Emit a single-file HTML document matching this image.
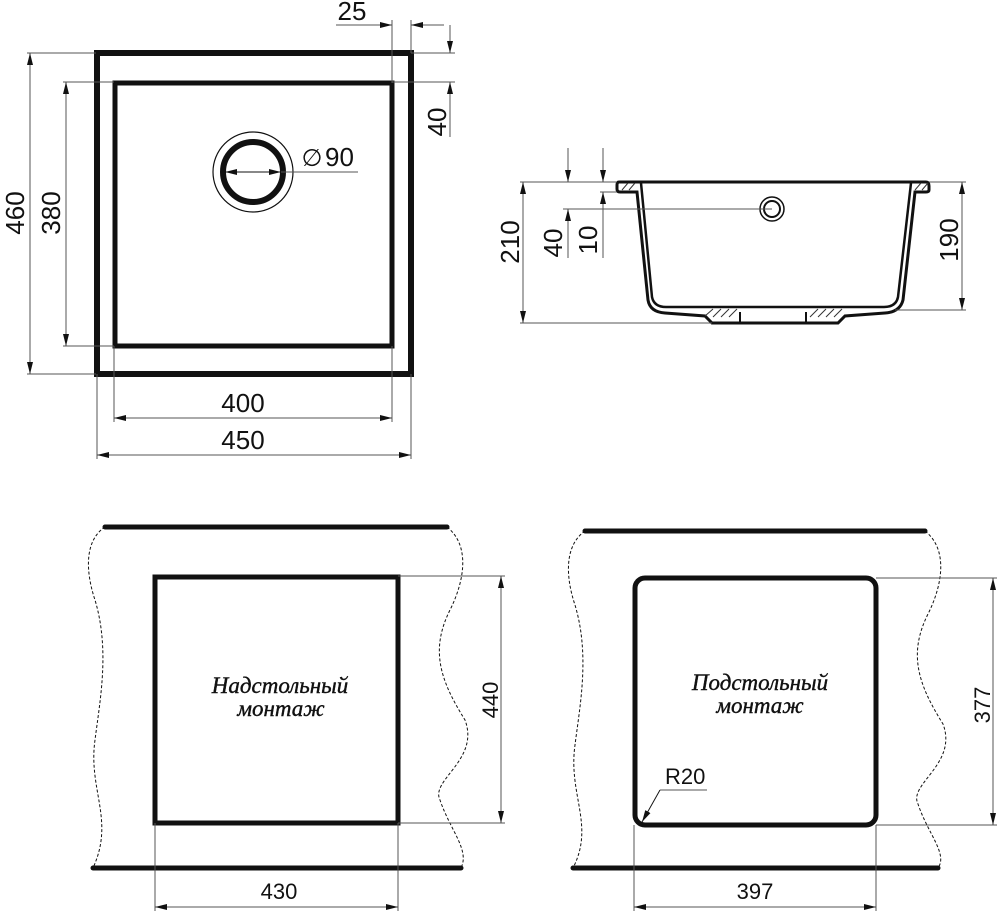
<!DOCTYPE html>
<html><head><meta charset="utf-8"><style>
html,body{margin:0;padding:0;background:#fff;}
svg{display:block}
text{font-family:"Liberation Sans",sans-serif;fill:#111}
.it{font-family:"Liberation Serif","DejaVu Serif",serif;font-style:italic;font-size:23px;stroke:#111;stroke-width:0.4}
</style></head><body>
<svg width="1000" height="912" viewBox="0 0 1000 912" xmlns="http://www.w3.org/2000/svg">
<defs>
<marker id="a" viewBox="0 0 12 6" refX="12" refY="3" markerWidth="12" markerHeight="6" orient="auto-start-reverse" markerUnits="userSpaceOnUse"><path d="M0,0 L12,3 L0,6 Z" fill="#111"/></marker>
</defs>
<g stroke="#111" fill="none">
<rect x="97" y="53" width="314" height="321" stroke-width="6"/>
<rect x="115" y="83" width="277" height="263" stroke-width="5"/>
<circle cx="253" cy="172" r="40" stroke-width="1.2"/>
<circle cx="253" cy="172" r="30" stroke-width="6"/>
<g stroke-width="1" stroke="#555">
<line x1="225" y1="172" x2="281" y2="172" marker-start="url(#a)" marker-end="url(#a)" stroke="#111"/>
<line x1="281" y1="172" x2="358" y2="172"/>
<line x1="27" y1="53" x2="96" y2="53"/><line x1="27" y1="374" x2="96" y2="374"/>
<line x1="30" y1="53" x2="30" y2="374" marker-start="url(#a)" marker-end="url(#a)"/>
<line x1="63" y1="82" x2="114" y2="82"/><line x1="63" y1="346" x2="114" y2="346"/>
<line x1="66" y1="82" x2="66" y2="346" marker-start="url(#a)" marker-end="url(#a)"/>
<line x1="114" y1="346" x2="114" y2="422"/><line x1="392" y1="346" x2="392" y2="422"/>
<line x1="114" y1="418" x2="392" y2="418" marker-start="url(#a)" marker-end="url(#a)"/>
<line x1="97" y1="374" x2="97" y2="459"/><line x1="411" y1="374" x2="411" y2="459"/>
<line x1="97" y1="455" x2="411" y2="455" marker-start="url(#a)" marker-end="url(#a)"/>
<line x1="392" y1="20" x2="392" y2="83"/><line x1="411" y1="20" x2="411" y2="53"/>
<line x1="336" y1="25" x2="392" y2="25" marker-end="url(#a)"/>
<line x1="444" y1="25" x2="411" y2="25" marker-end="url(#a)"/>
<line x1="411" y1="53" x2="455" y2="53"/><line x1="392" y1="82" x2="455" y2="82"/>
<line x1="450" y1="25" x2="450" y2="53" marker-end="url(#a)"/>
<line x1="450" y1="137" x2="450" y2="82" marker-end="url(#a)"/>
</g>
<path d="M619,182 L926,182 Q929,182 929,186 L929,190 Q929,192 926,192 L915,192 L903,300 Q900,312 885,313 L845,316 L838,323 L712,323 L705,316 L665,313 Q650,312 648,300 L637,192 L620,192 Q617,192 617,189 L617,185 Q617,182 619,182 Z" stroke-width="3"/>
<path d="M641,183 L652,297 Q654,307 666,307 L884,307 Q896,307 898,297 L911,183" stroke-width="2.5"/>
<line x1="740" y1="312" x2="740" y2="323" stroke-width="2"/><line x1="806" y1="312" x2="806" y2="323" stroke-width="2"/>
<g stroke-width="1" stroke="#333">
<path d="M705,316 l8,-7 M713,317 l8,-8 M721,317 l8,-8 M729,317 l8,-8 M810,317 l8,-8 M818,317 l8,-8 M826,317 l8,-8 M834,317 l8,-8"/>
<path d="M622,190 l6,-7 M629,190 l6,-7 M915,190 l6,-7 M922,190 l6,-7"/>
</g>
<circle cx="772" cy="209" r="12" stroke-width="1.5"/>
<circle cx="772" cy="209" r="8" stroke-width="2"/>
<g stroke-width="1" stroke="#555">
<line x1="520" y1="182" x2="617" y2="182"/><line x1="520" y1="323" x2="712" y2="323"/>
<line x1="523" y1="182" x2="523" y2="323" marker-start="url(#a)" marker-end="url(#a)"/>
<line x1="563" y1="209" x2="772" y2="209"/><line x1="600" y1="192" x2="617" y2="192"/>
<line x1="568" y1="148" x2="568" y2="182" marker-end="url(#a)"/>
<line x1="568" y1="258" x2="568" y2="209" marker-end="url(#a)"/>
<line x1="603" y1="148" x2="603" y2="182" marker-end="url(#a)"/>
<line x1="603" y1="258" x2="603" y2="192" marker-end="url(#a)"/>
<line x1="929" y1="182" x2="966" y2="182"/><line x1="895" y1="310" x2="966" y2="310"/>
<line x1="962" y1="182" x2="962" y2="310" marker-start="url(#a)" marker-end="url(#a)"/>
</g>
<line x1="105" y1="527" x2="447" y2="527" stroke-width="5" stroke-linecap="round"/>
<line x1="93" y1="868" x2="461" y2="868" stroke-width="5" stroke-linecap="round"/>
<rect x="155" y="577" width="243" height="246" stroke-width="5"/>
<path d="M105,527 C85,540 85,570 95,600 C110,650 100,700 95,740 C88,790 115,820 93,868" stroke-width="1" stroke-dasharray="3,2"/>
<path d="M447,527 C470,545 465,580 450,610 C430,650 440,680 465,720 C480,760 430,780 440,800 C450,830 470,850 461,868" stroke-width="1" stroke-dasharray="3,2"/>
<g stroke-width="1" stroke="#555">
<line x1="398" y1="576" x2="505" y2="576"/><line x1="398" y1="823" x2="505" y2="823"/>
<line x1="501" y1="576" x2="501" y2="823" marker-start="url(#a)" marker-end="url(#a)"/>
<line x1="155" y1="823" x2="155" y2="911"/><line x1="398" y1="823" x2="398" y2="911"/>
<line x1="155" y1="907" x2="398" y2="907" marker-start="url(#a)" marker-end="url(#a)"/>
</g>
<line x1="585" y1="531" x2="925" y2="531" stroke-width="5" stroke-linecap="round"/>
<line x1="573" y1="868" x2="938" y2="868" stroke-width="5" stroke-linecap="round"/>
<rect x="635" y="578" width="241" height="247" rx="10" stroke-width="5"/>
<path d="M585,531 C565,545 565,575 575,605 C590,655 580,705 575,745 C568,795 595,825 573,868" stroke-width="1" stroke-dasharray="3,2"/>
<path d="M925,531 C948,549 943,584 928,614 C908,654 918,684 943,724 C958,764 908,784 918,804 C928,834 948,854 938,868" stroke-width="1" stroke-dasharray="3,2"/>
<g stroke-width="1" stroke="#555">
<line x1="876" y1="578" x2="997" y2="578"/><line x1="876" y1="825" x2="997" y2="825"/>
<line x1="993" y1="578" x2="993" y2="825" marker-start="url(#a)" marker-end="url(#a)"/>
<line x1="634" y1="825" x2="634" y2="911"/><line x1="876" y1="825" x2="876" y2="911"/>
<line x1="634" y1="907" x2="876" y2="907" marker-start="url(#a)" marker-end="url(#a)"/>
<line x1="660" y1="790" x2="707" y2="790"/>
<line x1="660" y1="790" x2="642" y2="822" marker-end="url(#a)" stroke="#111"/>
</g>
</g>
<g font-size="26">
<text x="352" y="20" text-anchor="middle">25</text>
<text x="243" y="412" text-anchor="middle">400</text>
<text x="243" y="449" text-anchor="middle">450</text>
<text x="325" y="166">90</text>
<text transform="translate(24,213) rotate(-90)" text-anchor="middle">460</text>
<text transform="translate(60,213) rotate(-90)" text-anchor="middle">380</text>
<text transform="translate(446,122) rotate(-90)" text-anchor="middle">40</text>
<text transform="translate(519,242) rotate(-90)" text-anchor="middle">210</text>
<text transform="translate(562,243) rotate(-90)" text-anchor="middle">40</text>
<text transform="translate(597,240) rotate(-90)" text-anchor="middle">10</text>
<text transform="translate(958,240) rotate(-90)" text-anchor="middle">190</text>
</g>
<text x="312" y="166" font-size="24" text-anchor="middle" style="font-family:'DejaVu Sans',sans-serif">∅</text>
<g font-size="22">
<text x="279" y="899" text-anchor="middle">430</text>
<text x="755" y="899" text-anchor="middle">397</text>
<text x="665" y="784">R20</text>
<text transform="translate(498,700) rotate(-90)" text-anchor="middle">440</text>
<text transform="translate(990,705) rotate(-90)" text-anchor="middle">377</text>
</g>
<text class="it" x="280" y="693" text-anchor="middle">Надстольный</text>
<text class="it" x="281" y="716" text-anchor="middle">монтаж</text>
<text class="it" x="760" y="690" text-anchor="middle">Подстольный</text>
<text class="it" x="760" y="713" text-anchor="middle">монтаж</text>
</svg>
</body></html>
